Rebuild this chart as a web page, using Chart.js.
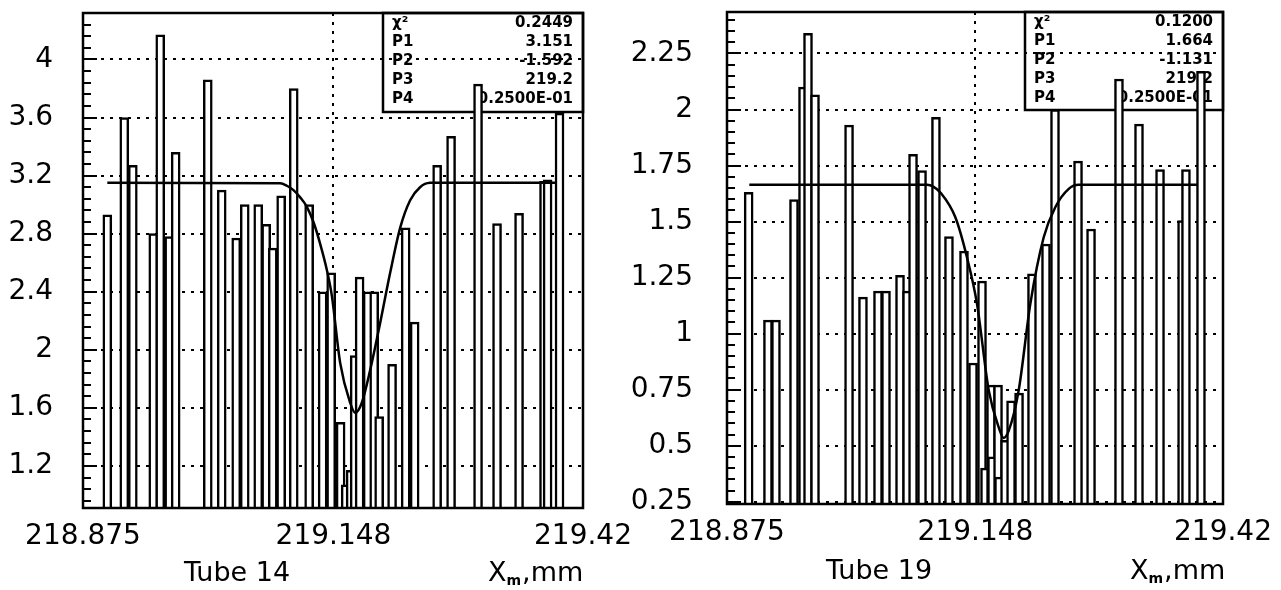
<!DOCTYPE html>
<html><head><meta charset="utf-8">
<script src="https://cdn.jsdelivr.net/npm/chart.js@4.4.1/dist/chart.umd.min.js"></script>
<style>
html,body{margin:0;padding:0;background:#fff;width:1281px;height:590px;overflow:hidden}
.panel{position:absolute;top:0;height:590px}
#p14{left:0;width:640px}
#p19{left:590px;width:691px}
</style></head><body>
<div class="panel" id="p14"><canvas id="c14"></canvas></div>
<div class="panel" id="p19"><canvas id="c19"></canvas></div>
<script>
// ---- shared axis ----
const xTickValues = [218.875, 219.148, 219.42];
const xTickLabels = ['218.875', '219.148', '219.42'];

// ---- Tube 14 ----
const tube14X = [218.9015, 218.9200, 218.9293, 218.9516, 218.9592, 218.9690, 218.9760, 219.0110, 219.0262, 219.0420,
                 219.0513, 219.0660, 219.0747, 219.0818, 219.0910, 219.1047, 219.1215, 219.1362, 219.1455, 219.1558,
                 219.1613, 219.1667, 219.1711, 219.1765, 219.1853, 219.1924, 219.1978, 219.2119, 219.2267, 219.2365,
                 219.2610, 219.2762, 219.3056, 219.3263, 219.3503, 219.3775, 219.3814, 219.3944];
const tube14Y = [2.93, 3.60, 3.27, 2.80, 4.17, 2.78, 3.36, 3.86, 3.10, 2.77,
                 3.00, 3.00, 2.865, 2.70, 3.06, 3.80, 3.00, 2.40, 2.53, 1.50,
                 1.07, 1.17, 1.96, 2.50, 2.40, 2.40, 1.54, 1.90, 2.84, 2.19,
                 3.27, 3.47, 3.83, 2.87, 2.94, 3.16, 3.17, 3.63];
const tube14FitX = [218.9015, 219.0900, 219.0972, 219.1044, 219.1117, 219.1190, 219.1262, 219.1335, 219.1408, 219.1463,
                    219.1553, 219.1662, 219.1717, 219.1789, 219.1880, 219.1989, 219.2098, 219.2207, 219.2316, 219.2424,
                    219.2533, 219.2642, 219.3914];
const tube14FitY = [3.151, 3.147, 3.13, 3.10, 3.05, 2.985, 2.88, 2.73, 2.55, 2.37,
                    1.91, 1.635, 1.565, 1.635, 1.86, 2.185, 2.53, 2.84, 3.03, 3.12,
                    3.15, 3.151, 3.151];
const tube14YTicks = [1.2, 1.6, 2, 2.4, 2.8, 3.2, 3.6, 4];
const tube14YLabels = ['1.2', '1.6', '2', '2.4', '2.8', '3.2', '3.6', '4'];
const tube14StatNames = ['χ²', 'P1', 'P2', 'P3', 'P4'];
const tube14StatValues = ['0.2449', '3.151', '-1.592', '219.2', '0.2500E-01'];

// ---- Tube 19 ----
const tube19X = [218.8988, 218.9200, 218.9288, 218.9486, 218.9585, 218.9640, 218.9717, 219.0091, 219.0244, 219.0409,
                 219.0497, 219.0651, 219.0728, 219.0794, 219.0893, 219.1046, 219.1189, 219.1354, 219.1453, 219.1552,
                 219.1585, 219.1651, 219.1662, 219.1728, 219.1739, 219.1805, 219.1871, 219.1959, 219.2101, 219.2255,
                 219.2354, 219.2607, 219.2750, 219.3057, 219.3277, 219.3508, 219.3750, 219.3793, 219.3958];
const tube19Y = [1.63, 1.06, 1.06, 1.598, 2.10, 2.34, 2.066, 1.93, 1.163, 1.19,
                 1.19, 1.26, 1.19, 1.80, 1.727, 1.965, 1.433, 1.368, 0.869, 1.234,
                 0.40, 0.77, 0.45, 0.77, 0.36, 0.524, 0.70, 0.735, 1.267, 1.40,
                 2.00, 1.77, 1.467, 2.136, 1.935, 1.732, 1.504, 1.732, 2.17];
const tube19FitX = [218.8995, 219.0948, 219.1020, 219.1094, 219.1259, 219.1387, 219.1497, 219.1626, 219.1735, 219.1790,
                    219.1845, 219.1955, 219.2083, 219.2230, 219.2357, 219.2505, 219.2614, 219.3914];
const tube19FitY = [1.664, 1.664, 1.655, 1.63, 1.519, 1.34, 1.133, 0.747, 0.583, 0.535,
                    0.566, 0.747, 1.133, 1.43, 1.564, 1.646, 1.664, 1.664];
const tube19YTicks = [0.25, 0.5, 0.75, 1, 1.25, 1.5, 1.75, 2, 2.25];
const tube19YLabels = ['0.25', '0.5', '0.75', '1', '1.25', '1.5', '1.75', '2', '2.25'];
const tube19StatNames = ['χ²', 'P1', 'P2', 'P3', 'P4'];
const tube19StatValues = ['0.1200', '1.664', '-1.131', '219.2', '0.2500E-01'];

const FONT = 'DejaVu Sans';

const decor = {
  id: 'decor',
  beforeDatasetsDraw(chart, args, o) {
    const ctx = chart.ctx, a = chart.chartArea;
    const bx = a.right - o.boxW, by = a.top;
    ctx.save();
    ctx.strokeStyle = '#000'; ctx.lineWidth = 2.5;
    ctx.strokeRect(bx, by, o.boxW, o.boxH);
    ctx.fillStyle = '#000';
    ctx.font = 'bold 15px "' + FONT + '"';
    ctx.textBaseline = 'middle';
    o.names.forEach((n, i) => {
      const yy = by + 10 + i * 19;
      ctx.textAlign = 'left'; ctx.fillText(n, bx + 9, yy);
      ctx.textAlign = 'right'; ctx.fillText(o.values[i], a.right - 10, yy);
    });
    ctx.restore();
  },
  afterDatasetsDraw(chart, args, o) {
    const ctx = chart.ctx, a = chart.chartArea, y = chart.scales.y;
    ctx.save();
    ctx.strokeStyle = '#000';
    ctx.lineWidth = 2.5;
    ctx.strokeRect(a.left, a.top, a.right - a.left, a.bottom - a.top);
    // inward ticks on the left axis
    ctx.lineWidth = 2;
    const majors = o.majors, step = o.minorStep;
    const drawTick = (v, len) => {
      const py = Math.round(y.getPixelForValue(v));
      if (py < a.top + 2 || py > a.bottom - 2) return;
      ctx.beginPath(); ctx.moveTo(a.left, py); ctx.lineTo(a.left + len, py); ctx.stroke();
    };
    for (let v = majors[0]; v >= y.min - 1e-9; v -= step) drawTick(v, Math.abs(v - majors[0]) < 1e-9 ? 14 : 8);
    for (let k = 1; majors[0] + k * step <= y.max + 1e-9; k++) {
      const v = majors[0] + k * step;
      const isMajor = majors.some(m => Math.abs(m - v) < 1e-6);
      drawTick(v, isMajor ? 14 : 8);
    }
    ctx.restore();
  },
  afterDraw(chart, args, o) {
    const ctx = chart.ctx;
    ctx.save();
    ctx.fillStyle = '#000';
    ctx.textBaseline = 'middle';
    ctx.font = '27px "' + FONT + '"';
    ctx.textAlign = 'center';
    ctx.fillText(o.title, o.titleX, o.titleY);
    ctx.textAlign = 'left';
    let x = o.unitX;
    ctx.fillText('X', x, o.titleY);
    x += ctx.measureText('X').width;
    ctx.font = 'bold 14px "' + FONT + '"';
    ctx.fillText('m', x, o.titleY + 7);
    x += ctx.measureText('m').width + 1;
    ctx.font = '27px "' + FONT + '"';
    ctx.fillText(',mm', x, o.titleY);
    ctx.restore();
  }
};

function makePanel(id, c) {
  return new Chart(document.getElementById(id), {
    type: 'bar',
    plugins: [decor],
    data: {
      datasets: [
        { type: 'line', data: c.fitX.map((x, i) => ({ x: x, y: c.fitY[i] })),
          borderColor: '#000', borderWidth: 2.5, pointRadius: 0, fill: false,
          cubicInterpolationMode: 'monotone', order: 0, clip: 0 },
        { type: 'bar', data: c.barX.map((x, i) => ({ x: x, y: c.barY[i] })),
          backgroundColor: '#fff', borderColor: '#000', borderWidth: 2.5,
          barThickness: 9, borderSkipped: 'start', base: c.yMin, clip: 0, order: 1 }
      ]
    },
    options: {
      responsive: true, maintainAspectRatio: false, animation: false,
      events: [],
      layout: { padding: { top: c.padTop, right: c.padRight, left: 0, bottom: 0 } },
      plugins: {
        legend: { display: false }, tooltip: { enabled: false },
        decor: { boxW: c.boxW, boxH: c.boxH, names: c.statNames, values: c.statValues,
                 majors: c.yTicks, minorStep: c.minorStep,
                 title: c.title, titleX: c.titleX, titleY: c.titleY, unitX: c.unitX }
      },
      scales: {
        x: {
          type: 'linear', min: xTickValues[0], max: xTickValues[2], offset: false,
          grid: { offset: false, color: '#000', lineWidth: 2, drawTicks: false },
          border: { display: false, dash: [3, 6] },
          afterBuildTicks: s => { s.ticks = xTickValues.map(v => ({ value: v })); },
          afterFit: s => { s.height = c.xHeight; s.paddingLeft = 0; s.paddingRight = 0; },
          ticks: { autoSkip: false, maxRotation: 0, minRotation: 0, padding: c.xPad, color: '#000',
                   font: { family: FONT, size: 28 }, callback: (v, i) => xTickLabels[i] }
        },
        y: {
          type: 'linear', min: c.yMin, max: c.yMax, beginAtZero: false,
          grid: { color: '#000', lineWidth: 2, drawTicks: false },
          border: { display: false, dash: [3, 6] },
          afterBuildTicks: s => { s.ticks = c.yTicks.map(v => ({ value: v })); },
          afterFit: s => { s.width = c.yWidth; s.paddingTop = 0; s.paddingBottom = 0; },
          ticks: { padding: c.yPad, color: '#000', font: { family: FONT, size: 28 },
                   callback: (v, i) => c.yLabels[i] }
        }
      }
    }
  });
}

makePanel('c14', {
  barX: tube14X, barY: tube14Y, fitX: tube14FitX, fitY: tube14FitY,
  yTicks: tube14YTicks, yLabels: tube14YLabels, statNames: tube14StatNames, statValues: tube14StatValues,
  yMin: 0.91, yMax: 4.32, minorStep: 0.08,
  yWidth: 83, xHeight: 82, padTop: 13, padRight: 57, yPad: 30, xPad: 12,
  boxW: 200, boxH: 99, title: 'Tube 14', titleX: 237, titleY: 574, unitX: 488
});
makePanel('c19', {
  barX: tube19X, barY: tube19Y, fitX: tube19FitX, fitY: tube19FitY,
  yTicks: tube19YTicks, yLabels: tube19YLabels, statNames: tube19StatNames, statValues: tube19StatValues,
  yMin: 0.24, yMax: 2.435, minorStep: 0.05,
  yWidth: 137, xHeight: 86, padTop: 12, padRight: 58, yPad: 34, xPad: 12,
  boxW: 198, boxH: 98, title: 'Tube 19', titleX: 289, titleY: 572, unitX: 540
});
</script>
</body></html>
